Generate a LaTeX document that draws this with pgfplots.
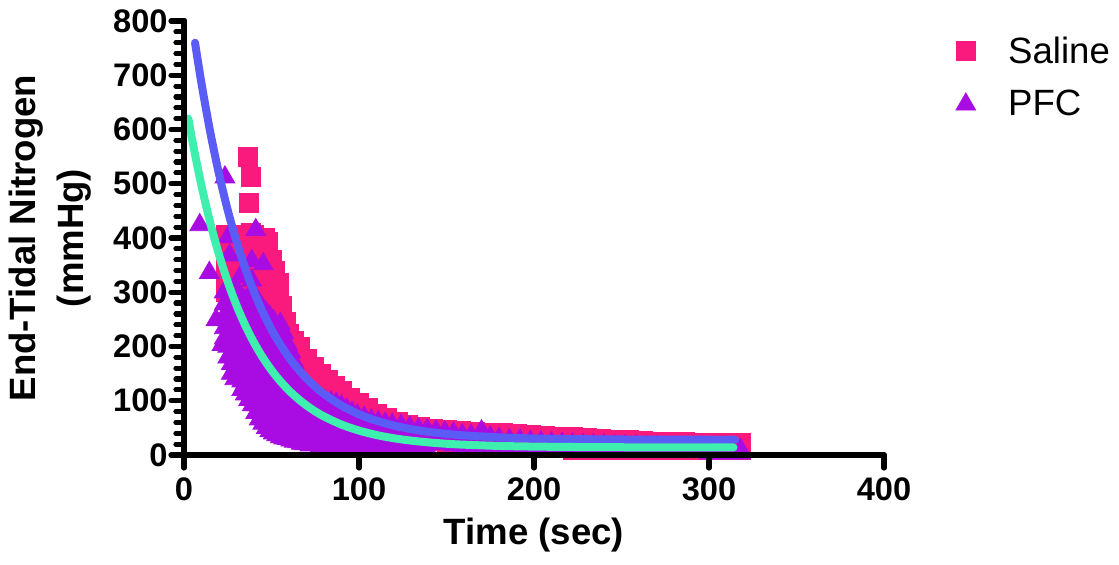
\documentclass[border=0pt]{standalone}
\usepackage{fontspec}
\setmainfont{Liberation Sans}
\usepackage{pgfplots}
\pgfplotsset{compat=1.18}
\definecolor{salcol}{RGB}{250,26,125}
\definecolor{pfccol}{RGB}{168,12,227}
\definecolor{salfit}{RGB}{90,92,245}
\definecolor{pfcfit}{RGB}{62,239,174}
\pgfplotsset{
  salpts/.style={only marks, mark=square*, mark size=4.75pt, color=salcol, mark options={draw=none, fill=salcol},
    legend image code/.code={\path (0pt,0pt) (30pt,0pt); \draw[##1, mark repeat=2, mark phase=2] plot coordinates {(0pt,0pt) (9pt,0pt) (30pt,0pt)};}},
  pfcpts/.style={only marks, mark=triangle*, mark size=5.7pt, color=pfccol, mark options={draw=none, fill=pfccol},
    legend image code/.code={\path (0pt,0pt) (30pt,0pt); \draw[##1, mark repeat=2, mark phase=2] plot coordinates {(0pt,0pt) (9pt,0pt) (30pt,0pt)};}},
}
\begin{document}
\begin{tikzpicture}
\begin{axis}[name=ax, at={(0,0)}, anchor=south west, scale only axis, width=350pt, height=217pt,
  xmin=0, xmax=400, ymin=0, ymax=800, clip=false, clip marker paths=true, axis on top,
  axis x line*=bottom, axis y line*=left,
  axis line style={line width=3pt, line cap=round, black},
  xtick={0,100,200,300,400}, ytick={0,100,...,800},
  tick align=outside,
  major tick length=6.5pt,
  tick style={black, line width=2.6pt, line cap=round},
  /pgf/number format/assume math mode=true,
  ticklabel style={font=\fontsize{16.3}{19}\selectfont\bfseries},
  yticklabel style={inner sep=1.5pt},
  xticklabel style={inner sep=2pt, yshift=-2.5pt},
  xlabel={Time (sec)},
  xlabel style={font=\fontsize{18.3}{22}\selectfont\bfseries, yshift=-3pt},
  ylabel={End-Tidal Nitrogen\\(mmHg)},
  ylabel style={font=\fontsize{18.3}{24}\selectfont\bfseries, align=center, yshift=6pt},
  legend style={at={(1.09,0.965)}, anchor=north west, draw=none, fill=none,
    font=\fontsize{18.3}{22}\selectfont, inner sep=0pt, row sep=12pt, nodes={inner sep=0pt}},
  legend cell align=left,
]
% Saline points
\addplot[salpts] coordinates {
(36.4,550) (38.3,512) (37.3,465)
(24,405) (24,377) (24,349) (24,321) (24,300)
(26,400) (26,372) (26,344) (26,316) (26,288) (26,270)
(28,405) (28,377) (28,349) (28,321) (28,293) (28,265) (28,250)
(30,402) (30,374) (30,346) (30,318) (30,290) (30,262) (30,234)
(32,398) (32,370) (32,342) (32,314) (32,286) (32,258) (32,230) (32,210)
(34,405) (34,377) (34,349) (34,321) (34,293) (34,265) (34,237) (34,209) (34,190)
(36,400) (36,372) (36,344) (36,316) (36,288) (36,260) (36,232) (36,204) (36,176)
(38,410) (38,382) (38,354) (38,326) (38,298) (38,270) (38,242) (38,214) (38,186) (38,158)
(40,405) (40,377) (40,349) (40,321) (40,293) (40,265) (40,237) (40,209) (40,181) (40,153) (40,130)
(42,400) (42,372) (42,344) (42,316) (42,288) (42,260) (42,232) (42,204) (42,176) (42,148) (42,120)
(44,395) (44,367) (44,339) (44,311) (44,283) (44,255) (44,227) (44,199) (44,171) (44,143) (44,115) (44,100)
(46,400) (46,372) (46,344) (46,316) (46,288) (46,260) (46,232) (46,204) (46,176) (46,148) (46,120) (46,92)
(48,392) (48,364) (48,336) (48,308) (48,280) (48,252) (48,224) (48,196) (48,168) (48,140) (48,112) (48,84)
(50,360) (50,332) (50,304) (50,276) (50,248) (50,220) (50,192) (50,164) (50,136) (50,108) (50,80)
(52,340) (52,312) (52,284) (52,256) (52,228) (52,200) (52,172) (52,144) (52,116) (52,88) (52,65)
(54,318) (54,290) (54,262) (54,234) (54,206) (54,178) (54,150) (54,122) (54,94) (54,66)
(56,275) (56,247) (56,219) (56,191) (56,163) (56,135) (56,107) (56,79) (56,51)
(58,245) (58,217) (58,189) (58,161) (58,133) (58,105) (58,77) (58,49)
(60,224) (60,196) (60,168) (60,140) (60,112) (60,84) (60,56)
(63,210) (63,182) (63,154) (63,126) (63,98) (63,70) (63,42)
(66,200) (66,172) (66,144) (66,116) (66,88) (66,60) (66,35)
(70,178) (70,150) (70,122) (70,94) (70,66) (70,38)
(74,163) (74,135) (74,107) (74,79) (74,51)
(78,150) (78,122) (78,94) (78,66) (78,38)
(82,138) (82,110) (82,82) (82,54)
(86,128) (86,100) (86,72) (86,44)
(90,118) (90,90) (90,62) (90,34)
(95,106) (95,78) (95,50)
(100,96) (100,68) (100,40)
(105,86) (105,58) (105,30)
(110,76) (110,48)
(116,68) (116,40)
(122,61) (122,33)
(128,56) (128,30)
(135,52) (135,28)
(142,49) (142,26)
(150,46) (150,24)
(158,44) (166,42) (174,41) (182,40) (190,39) (198,37) (206,36) (214,34)
(222,33) (222,10) (230,31) (230,10) (238,29) (238,10) (246,28) (246,10)
(254,27) (254,10) (262,26) (262,10) (270,25) (270,10) (278,24) (278,10)
(286,24) (286,10) (294,23) (294,10) (302,23) (302,10) (310,23) (310,10) (318,22) (318,10)
};
\addlegendentry{Saline}
% PFC points
\addplot[pfcpts] coordinates {
(9,424) (23.4,512) (14.5,336) (18.3,249) (21.7,203) (41,415) (38.7,358) (45.3,352) (25.3,402) (26,368) (32,328) (38.7,322)
(23,300) (23,278) (23,256) (23,234) (23,215)
(25,310) (25,288) (25,266) (25,244) (25,222) (25,200) (25,180)
(27,300) (27,278) (27,256) (27,234) (27,212) (27,190) (27,168) (27,150)
(29,305) (29,283) (29,261) (29,239) (29,217) (29,195) (29,173) (29,151) (29,140)
(31,300) (31,278) (31,256) (31,234) (31,212) (31,190) (31,168) (31,146)
(33,290) (33,268) (33,246) (33,224) (33,202) (33,180) (33,158) (33,136) (33,120)
(35,285) (35,263) (35,241) (35,219) (35,197) (35,175) (35,153) (35,131) (35,112)
(37,290) (37,268) (37,246) (37,224) (37,202) (37,180) (37,158) (37,136) (37,114) (37,102)
(39,300) (39,278) (39,256) (39,234) (39,212) (39,190) (39,168) (39,146) (39,124) (39,102) (39,92)
(41,290) (41,268) (41,246) (41,224) (41,202) (41,180) (41,158) (41,136) (41,114) (41,92) (41,78)
(43,280) (43,258) (43,236) (43,214) (43,192) (43,170) (43,148) (43,126) (43,104) (43,82) (43,66)
(45,270) (45,248) (45,226) (45,204) (45,182) (45,160) (45,138) (45,116) (45,94) (45,72) (45,58)
(47,262) (47,240) (47,218) (47,196) (47,174) (47,152) (47,130) (47,108) (47,86) (47,64) (47,50)
(49,255) (49,233) (49,211) (49,189) (49,167) (49,145) (49,123) (49,101) (49,79) (49,57) (49,44)
(51,248) (51,226) (51,204) (51,182) (51,160) (51,138) (51,116) (51,94) (51,72) (51,50) (51,40)
(53,232) (53,210) (53,188) (53,166) (53,144) (53,122) (53,100) (53,78) (53,56) (53,37)
(55,242) (55,220) (55,198) (55,176) (55,154) (55,132) (55,110) (55,88) (55,66) (55,44) (55,33)
(57,225) (57,203) (57,181) (57,159) (57,137) (57,115) (57,93) (57,71) (57,49) (57,31)
(59,205) (59,183) (59,161) (59,139) (59,117) (59,95) (59,73) (59,51) (59,30)
(61,190) (61,168) (61,146) (61,124) (61,102) (61,80) (61,58) (61,36) (61,27)
(63,170) (63,148) (63,126) (63,104) (63,82) (63,60) (63,38) (63,25)
(65,155) (65,133) (65,111) (65,89) (65,67) (65,45) (65,24)
(67,140) (67,118) (67,96) (67,74) (67,52) (67,30) (67,21)
(69,125) (69,103) (69,81) (69,59) (69,37) (69,20)
(72,115) (72,93) (72,71) (72,49) (72,27) (72,18)
(75,108) (75,86) (75,64) (75,42) (75,20)
(78,103) (78,81) (78,59) (78,37) (78,17)
(81,99) (81,77) (81,55) (81,33) (81,15)
(84,97) (84,75) (84,53) (84,31) (84,14)
(87,95) (87,73) (87,51) (87,29) (87,13)
(90,90) (90,68) (90,46) (90,24) (90,13)
(93,84) (93,62) (93,40) (93,18)
(96,78) (96,56) (96,34) (96,12)
(99,73) (99,51) (99,29) (99,11)
(103,69) (103,47) (103,25) (103,11)
(107,64) (107,42) (107,20)
(111,61) (111,39) (111,17)
(115,58) (115,36) (115,12)
(119,56) (119,34) (119,11)
(124,54) (124,32) (124,11)
(129,51) (129,29) (129,10)
(134,48) (134,26) (134,10)
(139,46) (139,24) (139,10)
(144,44) (144,22) (149,42) (149,20) (154,40) (154,18) (159,37) (159,15) (164,36) (164,14)
(170,44) (170,12) (175,33) (175,12) (180,30) (180,12) (186,28) (186,12) (192,27) (192,12)
(198,25) (198,10) (204,24) (204,10) (210,22) (210,10) (216,21) (216,10) (222,20) (222,10)
(228,19) (228,10) (234,18) (234,10) (240,18) (240,10) (246,17) (246,10) (252,16) (252,10)
(258,16) (258,10) (264,15) (264,10) (270,15) (270,10) (276,14) (276,10) (282,14) (282,10)
(288,13) (288,10) (294,13) (294,10)
(300,12) (300,3) (306,12) (306,3) (312,12) (312,3) (318,10) (318,3)
};
\addlegendentry{PFC}
% Saline fit
\addplot[forget plot, salfit, line width=4pt, line cap=round, smooth] coordinates {
(6.3,760) (10,684.8) (15,595.3) (20,518) (25,451.2) (30,393.6) (35,343.7) (40,300.7) (45,263.6) (50,231.4)
(55,203.7) (60,179.7) (65,159.1) (70,141.2) (75,125.8) (80,112.5) (90,91) (100,75) (110,63.1) (120,54.2)
(130,47.5) (140,42.6) (150,38.9) (160,36.1) (180,32.5) (200,30.5) (220,29.4) (240,28.8) (260,28.4) (280,28.2) (300,28.1) (315,28.1)
};
% PFC fit
\addplot[forget plot, pfcfit, line width=4pt, line cap=round, smooth] coordinates {
(2.5,620) (5,575.5) (10,496.1) (15,427.9) (20,369.4) (25,319.1) (30,276) (35,238.9) (40,207.1) (45,179.8) (50,156.3)
(55,136.2) (60,118.9) (65,104.1) (70,91.3) (75,80.4) (80,71) (90,56) (100,45) (110,36.8) (120,30.8)
(130,26.4) (140,23.2) (150,20.7) (160,19) (180,16.7) (200,15.5) (220,14.8) (240,14.4) (260,14.2) (280,14.1) (300,14) (314,14)
};
\end{axis}
% overlay axis drawn last: short y ticks every 20 mmHg
\begin{axis}[at={(0,0)}, anchor=south west, scale only axis, width=350pt, height=217pt,
  xmin=0, xmax=400, ymin=0, ymax=800, clip=false,
  axis x line=none, axis y line*=left,
  axis line style={line width=3pt, line cap=round, black},
  ytick={0,20,...,800}, yticklabels={,,},
  tick align=outside, major tick length=3.6pt,
  tick style={black, line width=2.6pt, line cap=round},
]
\addplot[only marks, mark=-, mark size=2pt, mark options={black, line width=2.6pt, line cap=round}] coordinates {
(-2.3,20) (-2.3,40) (-2.3,60) (-2.3,80) (-2.3,120) (-2.3,140) (-2.3,160) (-2.3,180)
(-2.3,220) (-2.3,240) (-2.3,260) (-2.3,280) (-2.3,320) (-2.3,340) (-2.3,360) (-2.3,380)
(-2.3,420) (-2.3,440) (-2.3,460) (-2.3,480) (-2.3,520) (-2.3,540) (-2.3,560) (-2.3,580)
(-2.3,620) (-2.3,640) (-2.3,660) (-2.3,680) (-2.3,720) (-2.3,740) (-2.3,760) (-2.3,780)
};
\end{axis}
\path (ax.south west) ++(-92pt,-55pt) rectangle ++(559.5pt,282.5pt);
\end{tikzpicture}
\end{document}
